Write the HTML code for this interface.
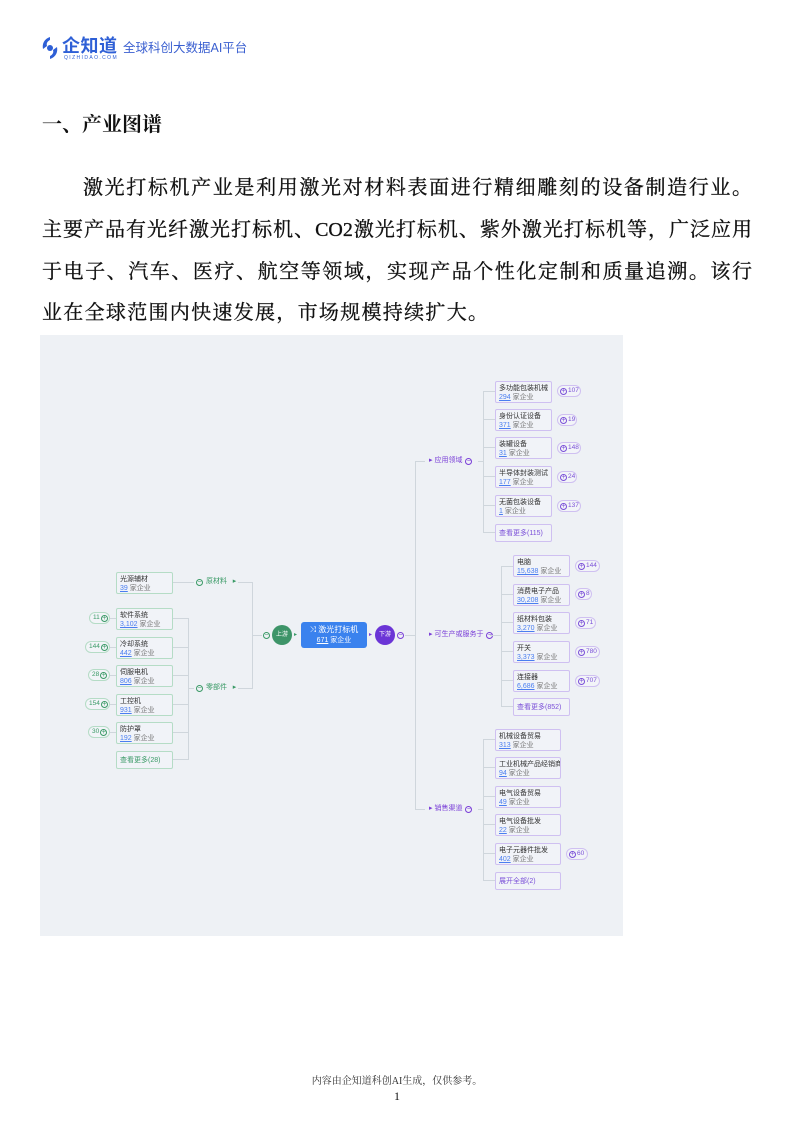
<!DOCTYPE html>
<html><head><meta charset="utf-8">
<style>
*{margin:0;padding:0;box-sizing:border-box}
body{width:794px;height:1123px;background:#fff;position:relative;overflow:hidden;font-family:"Liberation Sans","Noto Sans CJK SC",sans-serif}
.a{position:absolute}
.ln{position:absolute;left:42px;width:710px;font-family:"Liberation Serif","Noto Serif CJK SC",serif;font-size:20px;line-height:24px;text-align:justify;text-align-last:justify;color:#111;white-space:nowrap;-webkit-text-stroke:0.3px #111}
.bx{position:absolute;background:#f1f3f8;border:1px solid;border-radius:2px;font-size:7px;line-height:9px;padding:2px 0 0 3px;color:#333;white-space:nowrap;overflow:hidden}
.g{border-color:#b5dcc6}
.p{border-color:#cfc0f1}
.bx u{color:#4a7ef0}
.bx i{font-style:normal;color:#777}
.more{font-size:7px;padding-top:4px}
.g.more{color:#3a9a66}.p.more{color:#7a4fd8}
.bd{position:absolute;height:12px;border:1px solid;border-radius:6px;font-size:6.5px;line-height:10px;background:#f2f4f8;white-space:nowrap}
.bd.g{border-color:#b5dcc6;color:#3a9a66}
.bd.p{border-color:#cfc0f1;color:#7a4fd8}
.ci{display:inline-block;width:7px;height:7px;border:1px solid;border-radius:50%;text-align:center;line-height:5px;font-size:7px;vertical-align:-1px;margin:0 1px}
.lb{position:absolute;font-size:7px;line-height:10px;white-space:nowrap}
.h{position:absolute;height:1px;background:#cfd6dc}
.v{position:absolute;width:1px;background:#cfd6dc}
</style></head><body>
<svg class="a" style="left:40px;top:36px" width="20" height="24" viewBox="0 0 20 24"><path d="M10 1 C4 3 2 8 3 13 L7 10 C6 7 8 5 10 4Z M10 23 C16 21 18 16 17 11 L13 14 C14 17 12 19 10 20Z" fill="#2e5fd6"/><circle cx="10" cy="12" r="3" fill="#2e5fd6"/></svg>
<div class="a" style="left:62px;top:36px;font-size:18px;line-height:20px;color:#2e5fd6;font-weight:bold;letter-spacing:0.5px">企知道</div>
<div class="a" style="left:64px;top:55px;font-size:5px;color:#2e5fd6;letter-spacing:1.4px">QIZHIDAO.COM</div>
<div class="a" style="left:123px;top:41px;font-size:12.5px;line-height:14px;color:#3a5fd0">全球科创大数据AI平台</div>

<div class="a" style="left:42px;top:113px;font-family:'Liberation Serif','Noto Serif CJK SC',serif;font-weight:bold;font-size:20px;line-height:24px;color:#111">一、产业图谱</div>
<div class="ln" style="top:176px;left:83px;width:669px">激光打标机产业是利用激光对材料表面进行精细雕刻的设备制造行业。</div>
<div class="ln" style="top:218px">主要产品有光纤激光打标机、CO2激光打标机、紫外激光打标机等，广泛应用</div>
<div class="ln" style="top:260px">于电子、汽车、医疗、航空等领域，实现产品个性化定制和质量追溯。该行</div>
<div class="ln" style="top:301px;width:auto;text-align-last:auto;letter-spacing:1.3px">业在全球范围内快速发展，市场规模持续扩大。</div>

<div class="a" style="left:40px;top:335px;width:583px;height:601px;background:#eef1f5"></div>
<div class="h" style="left:172px;top:582px;width:22px"></div>
<div class="v" style="left:188px;top:618px;height:142px"></div>
<div class="h" style="left:172px;top:618px;width:16px"></div>
<div class="h" style="left:172px;top:647px;width:16px"></div>
<div class="h" style="left:172px;top:675px;width:16px"></div>
<div class="h" style="left:172px;top:704px;width:16px"></div>
<div class="h" style="left:172px;top:732px;width:16px"></div>
<div class="h" style="left:172px;top:759px;width:16px"></div>
<div class="h" style="left:188px;top:688px;width:6px"></div>
<div class="h" style="left:238px;top:582px;width:14px"></div>
<div class="h" style="left:238px;top:688px;width:14px"></div>
<div class="v" style="left:252px;top:582px;height:107px"></div>
<div class="h" style="left:252px;top:635px;width:10px"></div>
<div class="h" style="left:110px;top:618px;width:6px"></div>
<div class="h" style="left:110px;top:647px;width:6px"></div>
<div class="h" style="left:110px;top:675px;width:6px"></div>
<div class="h" style="left:110px;top:704px;width:6px"></div>
<div class="h" style="left:110px;top:732px;width:6px"></div>

<div class="bx g" style="left:116px;top:572px;width:57px;height:22px">光源辅材<br><u>39</u> <i>家企业</i></div>
<div class="bx g" style="left:116px;top:608px;width:57px;height:22px">软件系统<br><u>3,102</u> <i>家企业</i></div>
<div class="bx g" style="left:116px;top:637px;width:57px;height:22px">冷却系统<br><u>442</u> <i>家企业</i></div>
<div class="bx g" style="left:116px;top:665px;width:57px;height:22px">伺服电机<br><u>806</u> <i>家企业</i></div>
<div class="bx g" style="left:116px;top:694px;width:57px;height:22px">工控机<br><u>931</u> <i>家企业</i></div>
<div class="bx g" style="left:116px;top:722px;width:57px;height:22px">防护罩<br><u>192</u> <i>家企业</i></div>
<div class="bx g more" style="left:116px;top:751px;width:57px;height:18px">查看更多(28)</div>

<div class="bd g" style="left:89px;top:612px;width:21px;padding-left:3px">11<span class="ci">+</span></div>
<div class="bd g" style="left:85px;top:641px;width:25px;padding-left:3px">144<span class="ci">+</span></div>
<div class="bd g" style="left:88px;top:669px;width:22px;padding-left:3px">28<span class="ci">+</span></div>
<div class="bd g" style="left:85px;top:698px;width:25px;padding-left:3px">154<span class="ci">+</span></div>
<div class="bd g" style="left:88px;top:726px;width:22px;padding-left:3px">30<span class="ci">+</span></div>

<div class="lb" style="left:195px;top:577px;color:#3a9a66"><span class="ci">−</span> 原材料 &nbsp;&nbsp;▸</div>
<div class="lb" style="left:195px;top:683px;color:#3a9a66"><span class="ci">−</span> 零部件 &nbsp;&nbsp;▸</div>

<div class="lb" style="left:262px;top:630px;color:#3a9a66"><span class="ci">−</span></div>
<div class="a" style="left:272px;top:625px;width:20px;height:20px;border-radius:50%;background:#3d9468;color:#fff;font-size:6px;line-height:20px;text-align:center">上游</div>
<div class="lb" style="left:294px;top:630px;color:#3a9a66;font-size:6px">▸</div>
<div class="a" style="left:301px;top:622px;width:66px;height:26px;border-radius:3px;background:#3a82ee;color:#fff;font-size:8px;line-height:10px;text-align:center;padding-top:3px">⤨ 激光打标机<br><span style="font-size:7px"><u>671</u> 家企业</span></div>
<div class="lb" style="left:369px;top:630px;color:#7a3fd8;font-size:6px">▸</div>
<div class="a" style="left:375px;top:625px;width:20px;height:20px;border-radius:50%;background:#6b35d6;color:#fff;font-size:6px;line-height:20px;text-align:center">下游</div>
<div class="lb" style="left:396px;top:630px;color:#7a3fd8"><span class="ci">−</span></div>

<div class="h" style="left:405px;top:635px;width:10px"></div>
<div class="v" style="left:415px;top:461px;height:349px"></div>
<div class="h" style="left:415px;top:461px;width:10px"></div>
<div class="h" style="left:415px;top:809px;width:10px"></div>
<div class="lb" style="left:429px;top:456px;color:#7a3fd8">▸ 应用领域 <span class="ci">−</span></div>
<div class="lb" style="left:429px;top:630px;color:#7a3fd8">▸ 可生产或服务于 <span class="ci">−</span></div>
<div class="lb" style="left:429px;top:804px;color:#7a3fd8">▸ 销售渠道 <span class="ci">−</span></div>

<div class="h" style="left:478px;top:461px;width:5px"></div>
<div class="v" style="left:483px;top:391px;height:142px"></div>
<div class="h" style="left:483px;top:391px;width:12px"></div>
<div class="h" style="left:483px;top:419px;width:12px"></div>
<div class="h" style="left:483px;top:447px;width:12px"></div>
<div class="h" style="left:483px;top:476px;width:12px"></div>
<div class="h" style="left:483px;top:505px;width:12px"></div>
<div class="h" style="left:483px;top:532px;width:12px"></div>

<div class="bx p" style="left:495px;top:381px;width:57px;height:22px">多功能包装机械<br><u>294</u> <i>家企业</i></div>
<div class="bx p" style="left:495px;top:409px;width:57px;height:22px">身份认证设备<br><u>371</u> <i>家企业</i></div>
<div class="bx p" style="left:495px;top:437px;width:57px;height:22px">装罐设备<br><u>31</u> <i>家企业</i></div>
<div class="bx p" style="left:495px;top:466px;width:57px;height:22px">半导体封装测试<br><u>177</u> <i>家企业</i></div>
<div class="bx p" style="left:495px;top:495px;width:57px;height:22px">无菌包装设备<br><u>1</u> <i>家企业</i></div>
<div class="bx p more" style="left:495px;top:524px;width:57px;height:18px">查看更多(115)</div>
<div class="bd p" style="left:557px;top:385px;width:24px;padding-left:1px"><span class="ci">+</span>107</div>
<div class="bd p" style="left:557px;top:414px;width:20px;padding-left:1px"><span class="ci">+</span>19</div>
<div class="bd p" style="left:557px;top:442px;width:24px;padding-left:1px"><span class="ci">+</span>148</div>
<div class="bd p" style="left:557px;top:471px;width:20px;padding-left:1px"><span class="ci">+</span>24</div>
<div class="bd p" style="left:557px;top:500px;width:24px;padding-left:1px"><span class="ci">+</span>137</div>

<div class="h" style="left:490px;top:635px;width:11px"></div>
<div class="v" style="left:501px;top:566px;height:141px"></div>
<div class="h" style="left:501px;top:566px;width:12px"></div>
<div class="h" style="left:501px;top:594px;width:12px"></div>
<div class="h" style="left:501px;top:622px;width:12px"></div>
<div class="h" style="left:501px;top:651px;width:12px"></div>
<div class="h" style="left:501px;top:680px;width:12px"></div>
<div class="h" style="left:501px;top:706px;width:12px"></div>

<div class="bx p" style="left:513px;top:555px;width:57px;height:22px">电脑<br><u>15,638</u> <i>家企业</i></div>
<div class="bx p" style="left:513px;top:584px;width:57px;height:22px">消费电子产品<br><u>30,208</u> <i>家企业</i></div>
<div class="bx p" style="left:513px;top:612px;width:57px;height:22px">纸材料包装<br><u>3,270</u> <i>家企业</i></div>
<div class="bx p" style="left:513px;top:641px;width:57px;height:22px">开关<br><u>3,373</u> <i>家企业</i></div>
<div class="bx p" style="left:513px;top:670px;width:57px;height:22px">连接器<br><u>6,686</u> <i>家企业</i></div>
<div class="bx p more" style="left:513px;top:698px;width:57px;height:18px">查看更多(852)</div>
<div class="bd p" style="left:575px;top:560px;width:25px;padding-left:1px"><span class="ci">+</span>144</div>
<div class="bd p" style="left:575px;top:588px;width:17px;padding-left:1px"><span class="ci">+</span>8</div>
<div class="bd p" style="left:575px;top:617px;width:21px;padding-left:1px"><span class="ci">+</span>71</div>
<div class="bd p" style="left:575px;top:646px;width:25px;padding-left:1px"><span class="ci">+</span>780</div>
<div class="bd p" style="left:575px;top:675px;width:25px;padding-left:1px"><span class="ci">+</span>707</div>

<div class="h" style="left:478px;top:809px;width:5px"></div>
<div class="v" style="left:483px;top:739px;height:142px"></div>
<div class="h" style="left:483px;top:739px;width:12px"></div>
<div class="h" style="left:483px;top:767px;width:12px"></div>
<div class="h" style="left:483px;top:796px;width:12px"></div>
<div class="h" style="left:483px;top:824px;width:12px"></div>
<div class="h" style="left:483px;top:853px;width:12px"></div>
<div class="h" style="left:483px;top:880px;width:12px"></div>

<div class="bx p" style="left:495px;top:729px;width:66px;height:22px">机械设备贸易<br><u>313</u> <i>家企业</i></div>
<div class="bx p" style="left:495px;top:757px;width:66px;height:22px">工业机械产品经销商<br><u>94</u> <i>家企业</i></div>
<div class="bx p" style="left:495px;top:786px;width:66px;height:22px">电气设备贸易<br><u>49</u> <i>家企业</i></div>
<div class="bx p" style="left:495px;top:814px;width:66px;height:22px">电气设备批发<br><u>22</u> <i>家企业</i></div>
<div class="bx p" style="left:495px;top:843px;width:66px;height:22px">电子元器件批发<br><u>402</u> <i>家企业</i></div>
<div class="bx p more" style="left:495px;top:872px;width:66px;height:18px">展开全部(2)</div>
<div class="bd p" style="left:566px;top:848px;width:22px;padding-left:1px"><span class="ci">+</span>60</div>

<div class="a" style="left:0;width:794px;top:1072px;text-align:center;font-family:'Liberation Serif','Noto Serif CJK SC',serif;font-size:10px;color:#333">内容由企知道科创AI生成，仅供参考。</div>
<div class="a" style="left:0;width:794px;top:1089px;text-align:center;font-family:'Liberation Serif',serif;font-size:12px;color:#111">1</div>
</body></html>
